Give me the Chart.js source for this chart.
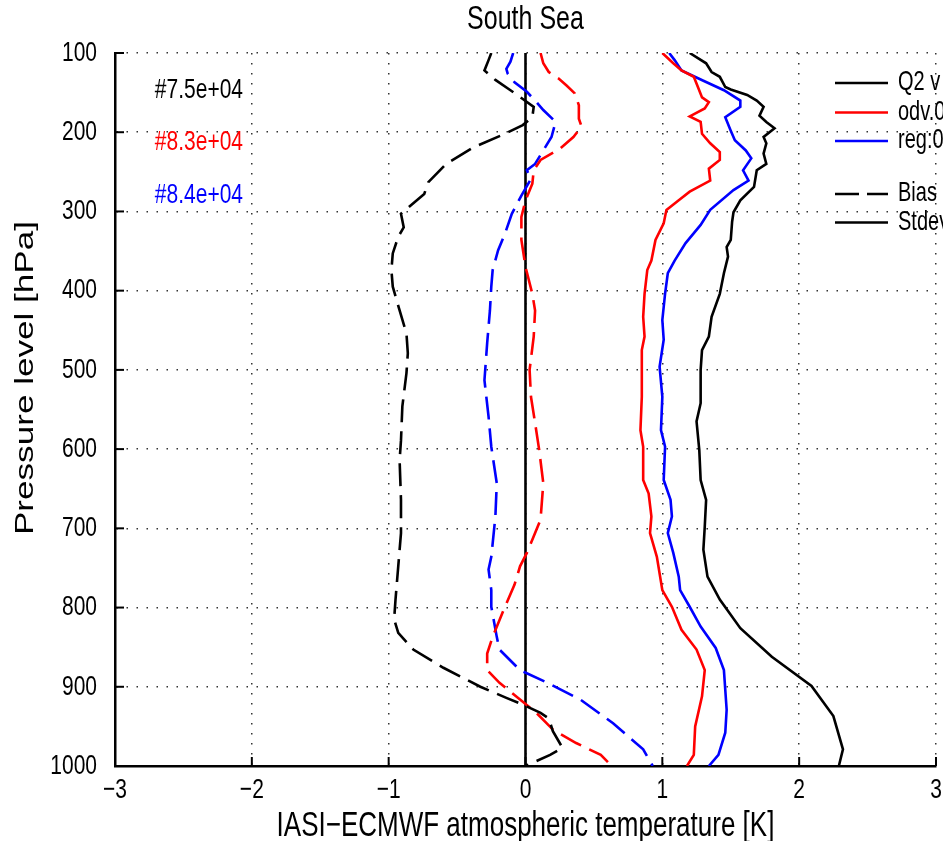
<!DOCTYPE html>
<html>
<head>
<meta charset="utf-8">
<script src="https://cdn.jsdelivr.net/npm/chart.js@4.4.1/dist/chart.umd.min.js"></script>
<style>
  html,body{margin:0;padding:0;background:#fff;}
  #wrap{width:943px;height:841px;}
</style>
</head>
<body>
<div id="wrap"><canvas id="chart" width="943" height="841"></canvas></div>
<script>
// pressure levels (hPa) and temperature differences (K) per curve
const q2StdP  = [100,113,124,130,143,146,153,160,168,179,187,195,206,214,227,240,248,269,286,301,313,336,345,357,378,404,433,458,475,500,542,565,601,639,664,698,727,761,790,826,862,899,937,979,1000];
const q2StdT  = [1.20,1.32,1.36,1.42,1.46,1.50,1.62,1.69,1.74,1.71,1.76,1.82,1.74,1.76,1.74,1.76,1.69,1.67,1.57,1.52,1.51,1.50,1.47,1.48,1.45,1.42,1.36,1.34,1.29,1.28,1.28,1.25,1.27,1.28,1.32,1.31,1.30,1.33,1.42,1.57,1.80,2.09,2.25,2.32,2.29];

const odvStdP = [100,113,122,130,143,156,162,170,180,187,202,214,225,235,246,261,275,286,298,315,336,362,374,404,433,458,475,534,576,597,639,656,685,706,736,778,799,828,853,879,912,950,986,1000];
const odvStdT = [1.00,1.08,1.14,1.23,1.26,1.29,1.34,1.31,1.20,1.28,1.29,1.35,1.42,1.42,1.34,1.35,1.20,1.12,1.03,1.01,0.95,0.92,0.89,0.87,0.86,0.87,0.85,0.85,0.84,0.86,0.86,0.90,0.92,0.91,0.96,1.00,1.07,1.14,1.25,1.31,1.29,1.24,1.23,1.18];

const regStdP = [100,109,122,135,147,160,168,181,198,210,223,233,248,261,273,298,317,340,362,378,404,437,462,496,534,576,597,639,664,685,706,731,761,778,799,824,851,879,929,958,986,1000];
const regStdT = [1.05,1.09,1.14,1.30,1.45,1.57,1.57,1.46,1.50,1.53,1.61,1.65,1.59,1.63,1.52,1.35,1.28,1.17,1.09,1.04,1.02,1.00,1.01,0.98,1.00,0.99,1.02,1.01,1.06,1.07,1.04,1.08,1.12,1.13,1.20,1.28,1.39,1.45,1.47,1.46,1.41,1.34];

const q2BiasP  = [100,109,122,134,147,158,168,181,191,202,219,240,263,278,294,303,320,332,353,374,395,425,454,479,504,546,589,614,664,706,748,790,815,832,853,876,900,914,924,933,940,956,977,986,1000];
const q2BiasT  = [-0.25,-0.27,-0.30,-0.22,-0.11,-0.02,0.06,0.05,-0.02,-0.15,-0.38,-0.58,-0.71,-0.74,-0.85,-0.91,-0.89,-0.93,-0.97,-0.98,-0.97,-0.92,-0.87,-0.86,-0.87,-0.90,-0.91,-0.92,-0.91,-0.91,-0.93,-0.95,-0.96,-0.93,-0.82,-0.60,-0.33,-0.14,0.00,0.11,0.17,0.20,0.27,0.18,0.00];

const odvBiasP = [100,113,124,132,141,151,166,183,193,206,221,235,248,265,286,307,336,370,404,425,458,500,534,567,601,643,689,706,731,748,771,803,837,858,879,895,916,933,954,971,986,1000];
const odvBiasT = [0.11,0.13,0.17,0.24,0.30,0.36,0.39,0.39,0.41,0.35,0.25,0.11,0.06,0.05,0.00,-0.03,-0.03,0.00,0.05,0.07,0.06,0.03,0.04,0.07,0.10,0.13,0.11,0.07,0.01,-0.04,-0.08,-0.16,-0.24,-0.28,-0.28,-0.19,-0.04,0.08,0.20,0.37,0.55,0.63];

const regBiasP = [100,111,120,126,137,149,162,172,187,206,223,240,248,259,280,303,328,349,374,395,425,466,513,559,597,643,685,736,752,778,799,837,853,879,895,916,946,979,1000];
const regBiasT = [-0.09,-0.11,-0.14,-0.13,-0.08,0.01,0.08,0.13,0.22,0.19,0.13,0.07,0.01,0.04,-0.03,-0.10,-0.15,-0.20,-0.24,-0.25,-0.26,-0.28,-0.30,-0.27,-0.25,-0.21,-0.22,-0.25,-0.27,-0.25,-0.25,-0.21,-0.19,-0.04,0.16,0.40,0.64,0.86,0.93];

const zeroP = [100,1000];
const zeroT = [0,0];

const xTicks = [-3,-2,-1,0,1,2,3];
const yTicks = [100,200,300,400,500,600,700,800,900,1000];

const counts = [
  {text:"#7.5e+04", color:"#000000"},
  {text:"#8.3e+04", color:"#ff0000"},
  {text:"#8.4e+04", color:"#0000ff"}
];
const DASH = [23,9];
const legendRows = [
  {text:"Q2 v",  color:"#000000", dash:[]},
  {text:"odv.0", color:"#ff0000", dash:[]},
  {text:"reg:0", color:"#0000ff", dash:[]},
  {text:"Bias",  color:"#000000", dash:[24,8]},
  {text:"Stdev", color:"#000000", dash:[]}
];
const legendY = [83, 112.5, 141, 194, 222.5];

const FONT = "'Liberation Sans', Arial, Helvetica, sans-serif";
const VSTRETCH = 1.35;   // glyphs are drawn taller than wide

function pts(p, t){ return p.map((v,i)=>({x:t[i], y:v})); }

function line(p, t, color, dash){
  return {
    data: pts(p, t),
    borderColor: color,
    borderWidth: 2.6,
    borderDash: dash,
    pointRadius: 0,
    tension: 0,
    fill: false
  };
}

function fmt(v){ return String(v).replace('-', '\u2212'); }

function tallText(ctx, text, x, y, rot){
  ctx.save();
  ctx.translate(x, y);
  ctx.scale(1, VSTRETCH);
  if(rot) ctx.rotate(rot);
  ctx.fillText(text, 0, 0);
  ctx.restore();
}

// tick labels, inward tick marks, titles, count labels and the legend
const decorations = {
  id: 'decorations',
  afterDraw(chart){
    const ctx = chart.ctx;
    const a = chart.chartArea;
    const xs = chart.scales.x, ys = chart.scales.y;
    ctx.save();
    ctx.strokeStyle = '#000';
    ctx.lineWidth = 2;
    xTicks.forEach(v=>{
      const px = xs.getPixelForValue(v);
      ctx.beginPath(); ctx.moveTo(px, a.bottom); ctx.lineTo(px, a.bottom - 9); ctx.stroke();
    });
    yTicks.forEach(v=>{
      const py = ys.getPixelForValue(v);
      ctx.beginPath(); ctx.moveTo(a.left, py); ctx.lineTo(a.left + 9, py); ctx.stroke();
    });

    ctx.fillStyle = '#000';
    ctx.textBaseline = 'middle';
    ctx.font = `21px ${FONT}`;
    ctx.textAlign = 'center';
    xTicks.forEach(v=> tallText(ctx, fmt(v), xs.getPixelForValue(v), 790));
    ctx.textAlign = 'right';
    yTicks.forEach(v=> tallText(ctx, fmt(v), 97, ys.getPixelForValue(v)));

    ctx.textAlign = 'center';
    ctx.font = `25px ${FONT}`;
    tallText(ctx, 'South Sea', (a.left + a.right)/2, 20);
    ctx.font = `26px ${FONT}`;
    tallText(ctx, 'IASI\u2212ECMWF atmospheric temperature [K]', (a.left + a.right)/2, 826);
    tallText(ctx, 'Pressure level [hPa]', 26, 378, -Math.PI/2);

    ctx.font = `21px ${FONT}`;
    ctx.textAlign = 'right';
    counts.forEach((c,i)=>{
      ctx.fillStyle = c.color;
      tallText(ctx, c.text, 243, [90, 141.7, 195][i]);
    });

    ctx.textAlign = 'left';
    ctx.font = `20px ${FONT}`;
    legendRows.forEach((r,i)=>{
      const y = legendY[i];
      ctx.strokeStyle = r.color;
      ctx.lineWidth = 2.6;
      ctx.setLineDash(r.dash);
      ctx.beginPath(); ctx.moveTo(835, y); ctx.lineTo(888, y); ctx.stroke();
      ctx.setLineDash([]);
      ctx.fillStyle = '#000';
      tallText(ctx, r.text, 898, y);
    });
    ctx.restore();
  }
};

new Chart(document.getElementById('chart'), {
  type: 'line',
  data: {
    datasets: [
      line(q2BiasP, q2BiasT, '#000000', DASH),
      line(odvBiasP, odvBiasT, '#ff0000', DASH),
      line(regBiasP, regBiasT, '#0000ff', DASH),
      line(q2StdP, q2StdT, '#000000', []),
      line(odvStdP, odvStdT, '#ff0000', []),
      line(regStdP, regStdT, '#0000ff', []),
      line(zeroP, zeroT, '#000000', [])
    ]
  },
  options: {
    responsive: false,
    animation: false,
    devicePixelRatio: 1,
    layout: { padding: { top: 53, right: 7, left: 0, bottom: 0 } },
    plugins: { legend: { display: false }, tooltip: { enabled: false }, title: { display: false } },
    scales: {
      x: {
        type: 'linear', min: -3, max: 3,
        afterFit: s => { s.height = 75; s.paddingLeft = 0; s.paddingRight = 0; },
        afterBuildTicks: s => { s.ticks = xTicks.map(v => ({value: v})); },
        ticks: { display: false },
        grid: { color: '#333', lineWidth: 1.5, drawTicks: false },
        border: { display: true, color: '#000', width: 2.5, dash: [1.5, 8.5] }
      },
      y: {
        type: 'linear', reverse: true, min: 100, max: 1000,
        afterFit: s => { s.width = 115; s.paddingTop = 0; s.paddingBottom = 0; },
        afterBuildTicks: s => { s.ticks = yTicks.map(v => ({value: v})); },
        ticks: { display: false },
        grid: { color: '#333', lineWidth: 1.5, drawTicks: false },
        border: { display: true, color: '#000', width: 2.5, dash: [1.5, 8.5] }
      }
    }
  },
  plugins: [decorations]
});
</script>
</body>
</html>
